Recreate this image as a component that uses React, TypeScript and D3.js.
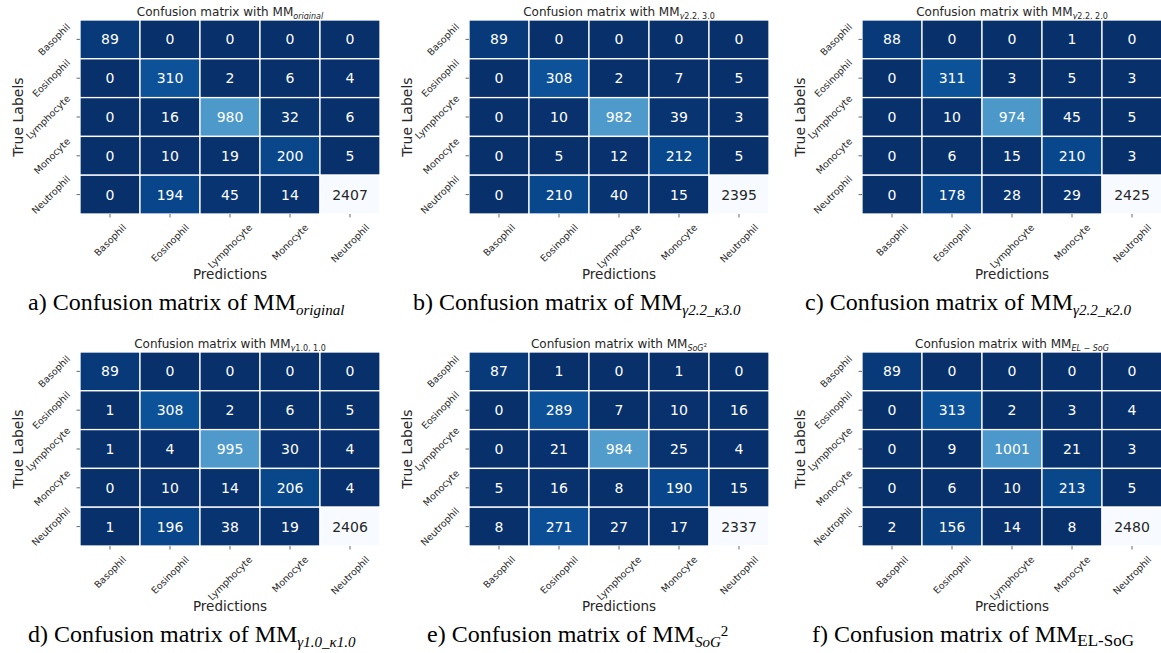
import React from "react";
import * as d3 from "d3";

const categories = ["Basophil", "Eosinophil", "Lymphocyte", "Monocyte", "Neutrophil"];

const mOriginal = [
  [89, 0, 0, 0, 0],
  [0, 310, 2, 6, 4],
  [0, 16, 980, 32, 6],
  [0, 10, 19, 200, 5],
  [0, 194, 45, 14, 2407],
];
const mG22K30 = [
  [89, 0, 0, 0, 0],
  [0, 308, 2, 7, 5],
  [0, 10, 982, 39, 3],
  [0, 5, 12, 212, 5],
  [0, 210, 40, 15, 2395],
];
const mG22K20 = [
  [88, 0, 0, 1, 0],
  [0, 311, 3, 5, 3],
  [0, 10, 974, 45, 5],
  [0, 6, 15, 210, 3],
  [0, 178, 28, 29, 2425],
];
const mG10K10 = [
  [89, 0, 0, 0, 0],
  [1, 308, 2, 6, 5],
  [1, 4, 995, 30, 4],
  [0, 10, 14, 206, 4],
  [1, 196, 38, 19, 2406],
];
const mSoG2 = [
  [87, 1, 0, 1, 0],
  [0, 289, 7, 10, 16],
  [0, 21, 984, 25, 4],
  [5, 16, 8, 190, 15],
  [8, 271, 27, 17, 2337],
];
const mELSoG = [
  [89, 0, 0, 0, 0],
  [0, 313, 2, 3, 4],
  [0, 9, 1001, 21, 3],
  [0, 6, 10, 213, 5],
  [2, 156, 14, 8, 2480],
];

type Seg = { t: string; it?: boolean; shift?: number; fs?: number };

interface PanelDef {
  m: number[][];
  left: number;
  top: number;
  capX: number;
  title: Seg[];
  caption: Seg[];
}

const SANS = "DejaVu Sans, sans-serif";
const SERIF = "Liberation Serif, Times New Roman, serif";

const panels: PanelDef[] = [
  {
    m: mOriginal, left: 80, top: 20, capX: 28,
    title: [{ t: "original", it: true, shift: 3, fs: 8 }],
    caption: [{ t: "original", it: true, shift: 5, fs: 15 }],
  },
  {
    m: mG22K30, left: 469, top: 20, capX: 413,
    title: [{ t: "γ", it: true, shift: 3, fs: 8 }, { t: "2.2, 3.0", shift: 3, fs: 8 }],
    caption: [{ t: "γ2.2_κ3.0", it: true, shift: 5, fs: 15 }],
  },
  {
    m: mG22K20, left: 862, top: 20, capX: 805,
    title: [{ t: "γ", it: true, shift: 3, fs: 8 }, { t: "2.2, 2.0", shift: 3, fs: 8 }],
    caption: [{ t: "γ2.2_κ2.0", it: true, shift: 5, fs: 15 }],
  },
  {
    m: mG10K10, left: 80, top: 352, capX: 28,
    title: [{ t: "γ", it: true, shift: 3, fs: 8 }, { t: "1.0, 1.0", shift: 3, fs: 8 }],
    caption: [{ t: "γ1.0_κ1.0", it: true, shift: 5, fs: 15 }],
  },
  {
    m: mSoG2, left: 469, top: 352, capX: 427,
    title: [{ t: "SoG", it: true, shift: 3, fs: 8 }, { t: "2", shift: -1, fs: 5.5 }],
    caption: [{ t: "SoG", it: true, shift: 5, fs: 15 }, { t: "2", shift: -6, fs: 15 }],
  },
  {
    m: mELSoG, left: 862, top: 352, capX: 812,
    title: [{ t: "EL − SoG", it: true, shift: 3, fs: 8 }],
    caption: [{ t: "EL-SoG", shift: 4, fs: 17 }],
  },
];

const HW = 300;
const HH = 194;

let ctx: CanvasRenderingContext2D | null = null;
function measure(text: string, font: string): number {
  if (!ctx) {
    const c = document.createElement("canvas");
    ctx = c.getContext("2d");
  }
  if (!ctx) return text.length * 5;
  ctx.font = font;
  return ctx.measureText(text).width;
}

function segs(list: Seg[]) {
  let prev = 0;
  return list.map((s, i) => {
    const sh = s.shift ?? 0;
    const dy = sh - prev;
    prev = sh;
    return (
      <tspan key={i} dy={dy} fontSize={s.fs} fontStyle={s.it ? "italic" : "normal"}>
        {s.t}
      </tspan>
    );
  });
}

function Panel({ p, idx }: { p: PanelDef; idx: number }) {
  const x = d3.scaleBand<string>().domain(categories).range([p.left, p.left + HW]);
  const y = d3.scaleBand<string>().domain(categories).range([p.top, p.top + HH]);
  const max = d3.max(p.m.flat()) ?? 1;
  const color = d3.scaleSequential(d3.interpolateBlues).domain([max, 0]);
  const cx = p.left + HW / 2;
  const bottom = p.top + HH;
  const tickFs = 9.5;
  const tickFont = `${tickFs}px "DejaVu Sans"`;
  const diag = (l: number) => (l + tickFs * 1.1) / (2 * Math.SQRT2);

  return (
    <g>
      <text x={cx} y={p.top - 4} textAnchor="middle" fontFamily={SANS} fontSize={12} fill="#262626">
        Confusion matrix with MM
        {segs(p.title)}
      </text>
      {p.m.map((row, ri) =>
        row.map((v, ci) => {
          const c = color(v);
          const rgb = d3.rgb(c);
          const L = 0.2126 * rgb.r + 0.7152 * rgb.g + 0.0722 * rgb.b;
          return (
            <g key={`${ri}-${ci}`}>
              <rect
                x={x(categories[ci])!}
                y={y(categories[ri])!}
                width={x.bandwidth()}
                height={y.bandwidth()}
                fill={c}
                stroke="#ffffff"
                strokeWidth={1.3}
              />
              <text
                x={x(categories[ci])! + x.bandwidth() / 2}
                y={y(categories[ri])! + y.bandwidth() / 2}
                textAnchor="middle"
                dominantBaseline="central"
                fontFamily={SANS}
                fontSize={14}
                fill={L > 150 ? "#262626" : "#ffffff"}
              >
                {v}
              </text>
            </g>
          );
        })
      )}
      {categories.map((cat) => {
        const yy = y(cat)! + y.bandwidth() / 2;
        const l = measure(cat, tickFont);
        const ax = p.left - 8 - diag(l);
        return (
          <g key={"y" + cat}>
            <line x1={p.left - 3.5} x2={p.left} y1={yy} y2={yy} stroke="#444" strokeWidth={0.8} />
            <text
              transform={`translate(${ax},${yy}) rotate(-45)`}
              textAnchor="middle"
              dominantBaseline="central"
              fontFamily={SANS}
              fontSize={tickFs}
              fill="#262626"
            >
              {cat}
            </text>
          </g>
        );
      })}
      {categories.map((cat) => {
        const xx = x(cat)! + x.bandwidth() / 2;
        const l = measure(cat, tickFont);
        const ay = bottom + 8 + diag(l);
        return (
          <g key={"x" + cat}>
            <line x1={xx} x2={xx} y1={bottom} y2={bottom + 3.5} stroke="#444" strokeWidth={0.8} />
            <text
              transform={`translate(${xx},${ay}) rotate(-45)`}
              textAnchor="middle"
              dominantBaseline="central"
              fontFamily={SANS}
              fontSize={tickFs}
              fill="#262626"
            >
              {cat}
            </text>
          </g>
        );
      })}
      <text x={cx} y={bottom + 65} textAnchor="middle" fontFamily={SANS} fontSize={13.5} fill="#262626">
        Predictions
      </text>
      <text
        transform={`translate(${p.left - 62},${p.top + HH / 2}) rotate(-90)`}
        textAnchor="middle"
        dominantBaseline="central"
        fontFamily={SANS}
        fontSize={14}
        fill="#262626"
      >
        True Labels
      </text>
      <text x={p.capX} y={bottom + 96} fontFamily={SERIF} fontSize={24} fill="#000">
        {String.fromCharCode(97 + idx)}) Confusion matrix of MM
        {segs(p.caption)}
      </text>
    </g>
  );
}

export default function App() {
  return (
    <svg width={1161} height={653} style={{ position: "absolute", left: 0, top: 0, background: "#fff" }}>
      <rect width={1161} height={653} fill="#fff" />
      {panels.map((p, i) => (
        <Panel key={i} p={p} idx={i} />
      ))}
    </svg>
  );
}
